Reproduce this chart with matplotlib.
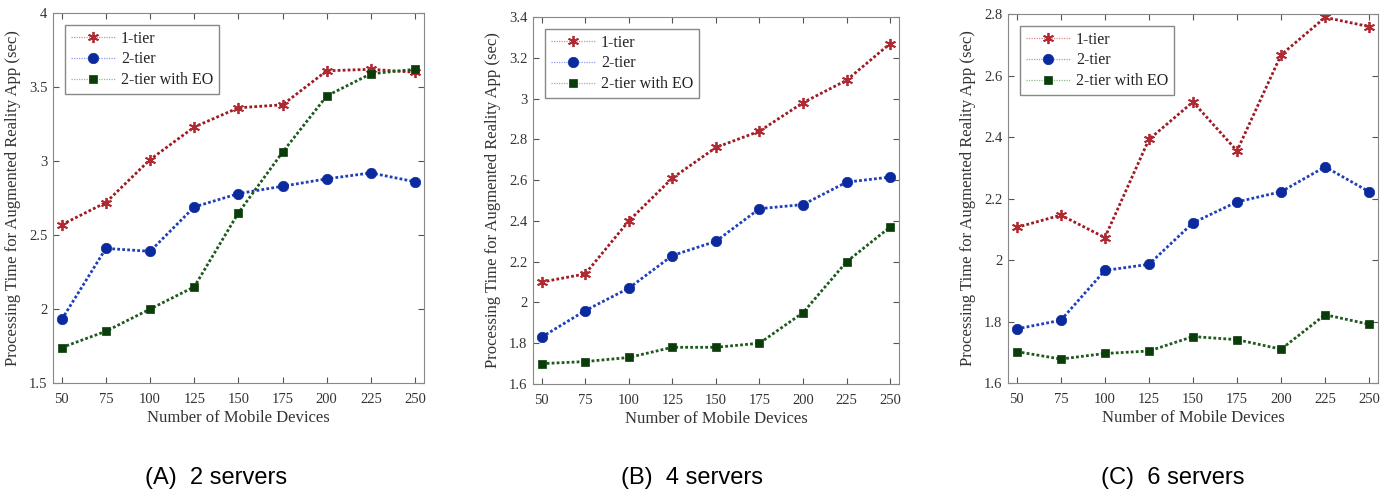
import numpy as np
import matplotlib
matplotlib.use('Agg')
import matplotlib.pyplot as plt

# 数据
devices = [50, 75, 100, 125, 150, 175, 200, 225, 250]

tier1_2s = [2.57, 2.72, 3.01, 3.23, 3.36, 3.38, 3.61, 3.62, 3.60]
tier2_2s = [1.93, 2.41, 2.39, 2.69, 2.78, 2.83, 2.88, 2.92, 2.86]
tier2eo_2s = [1.74, 1.85, 2.00, 2.15, 2.65, 3.06, 3.44, 3.59, 3.62]

tier1_4s = [2.10, 2.14, 2.40, 2.61, 2.76, 2.84, 2.98, 3.09, 3.27]
tier2_4s = [1.83, 1.96, 2.07, 2.23, 2.30, 2.46, 2.48, 2.59, 2.615]
tier2eo_4s = [1.70, 1.71, 1.73, 1.78, 1.78, 1.80, 1.95, 2.20, 2.37]

tier1_6s = [2.106, 2.146, 2.073, 2.392, 2.514, 2.355, 2.667, 2.789, 2.759]
tier2_6s = [1.776, 1.804, 1.966, 1.986, 2.121, 2.189, 2.222, 2.303, 2.222]
tier2eo_6s = [1.702, 1.678, 1.696, 1.704, 1.751, 1.741, 1.710, 1.822, 1.791]

panel_titles = ['(A)  2 servers', '(B)  4 servers', '(C)  6 servers']
y_ranges = [(1.5, 4.0), (1.6, 3.4), (1.6, 2.8)]
y_ticks = [[1.5, 2, 2.5, 3, 3.5, 4],
           [1.6, 1.8, 2, 2.2, 2.4, 2.6, 2.8, 3, 3.2, 3.4],
           [1.6, 1.8, 2, 2.2, 2.4, 2.6, 2.8]]
series = [(tier1_2s, tier2_2s, tier2eo_2s),
          (tier1_4s, tier2_4s, tier2eo_4s),
          (tier1_6s, tier2_6s, tier2eo_6s)]

# 子图位置
positions = [[0.038, 0.223, 0.2663, 0.7505],
             [0.3826, 0.2211, 0.2627, 0.7444],
             [0.7236, 0.2231, 0.2656, 0.7485]]
title_x = [0.155, 0.497, 0.842]

serif = ['Liberation Serif', 'DejaVu Serif']
asterisk = (6, 2, 0)
dense_dot = (0, (1, 0.8))

styles = [
    dict(label='1-tier', color='#9e1b24', marker=asterisk, ms=8, mew=1.3,
         mec='#b02a33', mfc='#b02a33', leg_color='#e08a90'),
    dict(label='2-tier', color='#1f3fb8', marker='o', ms=7.5, mew=0.5,
         mec='#0a2a9e', mfc='#0a2a9e', leg_color='#8fa0e8'),
    dict(label='2-tier with EO', color='#1c5a1c', marker='s', ms=5.5, mew=0.5,
         mec='#0b3d0b', mfc='#0b3d0b', leg_color='#8cc08c'),
]

fig = plt.figure(figsize=(13.93, 4.93), dpi=100)

for i in range(3):
    ax = fig.add_axes(positions[i])
    for vals, st in zip(series[i], styles):
        ax.plot(devices, vals, linestyle=dense_dot, lw=2.0, color=st['color'],
                marker=st['marker'], ms=st['ms'], mew=st['mew'], mec=st['mec'],
                mfc=st['mfc'], label=st['label'])

    ax.set_xlim(45, 255)
    ax.set_ylim(*y_ranges[i])
    ax.set_xticks(devices)
    ax.set_yticks(y_ticks[i])
    ax.set_yticklabels([f'{v:g}' for v in y_ticks[i]])
    ax.tick_params(direction='in', length=4, colors='#555555', labelsize=10.5,
                   top=True, right=True, labeltop=False, labelright=False)
    ax.tick_params(axis='x', pad=7)
    ax.tick_params(axis='y', pad=4)
    for lab in ax.get_xticklabels() + ax.get_yticklabels():
        lab.set_family(serif)
        lab.set_color('#333333')
    for s in ax.spines.values():
        s.set_color('#888888')
        s.set_linewidth(0.8)
    ax.set_xlabel('Number of Mobile Devices', fontsize=12, family=serif,
                  color='#333333', labelpad=3)
    ax.set_ylabel('Processing Time for Augmented Reality App (sec)', fontsize=12,
                  family=serif, color='#333333', labelpad=6)
    leg = ax.legend(loc='upper left', fancybox=False, prop={'family': serif, 'size': 11.5},
                    borderaxespad=0.75, handlelength=2.8, handletextpad=0.35,
                    labelspacing=0.3, borderpad=0.35, edgecolor='#888888',
                    framealpha=1)
    # 图例里的连线画细一些
    for ln, st in zip(leg.get_lines(), styles):
        ln.set_linewidth(0.9)
        ln.set_linestyle((0, (1, 1)))
        ln.set_color(st['leg_color'])
    for txt in leg.get_texts():
        txt.set_color('#222222')

    fig.text(title_x[i], 0.030, panel_titles[i], ha='center', va='center',
             fontsize=17, family=['Liberation Sans', 'DejaVu Sans'])

fig.savefig('out.png', dpi=100)
